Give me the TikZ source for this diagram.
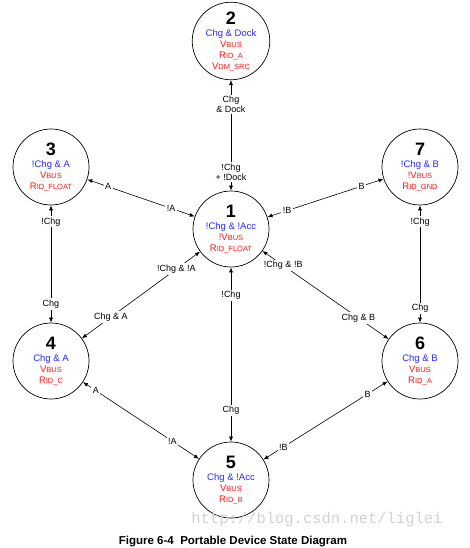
\documentclass[tikz,border=0pt]{standalone}
\usepackage{fontspec}
\setmainfont{Liberation Sans}
\newfontfamily\wmfont{Liberation Mono}
\usetikzlibrary{arrows.meta}
\definecolor{stblue}{RGB}{40,40,255}
\definecolor{stred}{RGB}{255,20,20}
\newcommand\stnum[1]{{\fontsize{18}{18}\selectfont\bfseries #1}}
\newcommand\stcond[1]{\textcolor{stblue}{#1}}
\newcommand\stsig[2]{\textcolor{stred}{#1{\fontsize{7.5}{11}\selectfont #2}}}
\begin{document}
\begin{tikzpicture}[x=1pt,y=-1pt,
  state/.style={circle,draw,line width=0.7pt,minimum size=76pt,inner sep=0pt,align=center,font=\fontsize{9.5}{11}\selectfont},
  link/.style={line width=0.6pt,{Latex[length=5pt,width=4pt]}-{Latex[length=5pt,width=4pt]}},
  lab/.style={fill=white,inner sep=1.5pt,font=\fontsize{9}{10}\selectfont,align=center}]
\useasboundingbox (0,0) rectangle (470,548);
\node[state] (n2) at (231,41) {\stnum{2}\\[1pt]\stcond{Chg \& Dock}\\\stsig{V}{BUS}\\\stsig{R}{ID\_A}\\\stsig{V}{DM\_SRC}};
\node[state] (n1) at (231,229) {\stnum{1}\\[1pt]\stcond{!Chg \& !Acc}\\\stsig{!V}{BUS}\\\stsig{R}{ID\_FLOAT}};
\node[state] (n3) at (51,167) {\stnum{3}\\[1pt]\stcond{!Chg \& A}\\\stsig{V}{BUS}\\\stsig{R}{ID\_FLOAT}};
\node[state] (n7) at (420,167) {\stnum{7}\\[1pt]\stcond{!Chg \& B}\\\stsig{!V}{BUS}\\\stsig{R}{ID\_GND}};
\node[state] (n4) at (51,361) {\stnum{4}\\[1pt]\stcond{Chg \& A}\\\stsig{V}{BUS}\\\stsig{R}{ID\_C}};
\node[state] (n6) at (420,361) {\stnum{6}\\[1pt]\stcond{Chg \& B}\\\stsig{V}{BUS}\\\stsig{R}{ID\_A}};
\node[state] (n5) at (231,480) {\stnum{5}\\[1pt]\stcond{Chg \& !Acc}\\\stsig{V}{BUS}\\\stsig{R}{ID\_B}};

\draw[link] (n2) -- node[lab,pos=0.22]{Chg\\\& Dock} node[lab,pos=0.83]{!Chg\\+ !Dock} (n1);
\draw[link] (n3) -- node[lab,pos=0.195]{A} node[lab,pos=0.78]{!A} (n1);
\draw[link] (n7) -- node[lab,pos=0.19]{B} node[lab,pos=0.83]{!B} (n1);
\draw[link] (n3) -- node[lab,pos=0.14]{!Chg} node[lab,pos=0.84]{Chg} (n4);
\draw[link] (n7) -- node[lab,pos=0.14]{!Chg} node[lab,pos=0.88]{Chg} (n6);
\draw[link] (n4) -- node[lab,pos=0.245]{Chg \& A} node[lab,pos=0.80]{!Chg \& !A} (n1);
\draw[link] (n6) -- node[lab,pos=0.24]{Chg \& B} node[lab,pos=0.835]{!Chg \& !B} (n1);
\draw[link] (n1) -- node[lab,pos=0.16]{!Chg} node[lab,pos=0.82]{Chg} (n5);
\draw[link] (n4) -- node[lab,pos=0.11]{A} node[lab,pos=0.77]{!A} (n5);
\draw[link] (n6) -- node[lab,pos=0.16]{B} node[lab,pos=0.84]{!B} (n5);

\node[text=gray!35,font=\wmfont\fontsize{15.5}{16}\selectfont] (wm) at (317,519) {http://blog.csdn.net/liglei};
\node[font=\bfseries\fontsize{11.5}{13}\selectfont] (cap) at (233,542) {Figure 6-4\ \ Portable Device State Diagram};
\end{tikzpicture}
\end{document}
